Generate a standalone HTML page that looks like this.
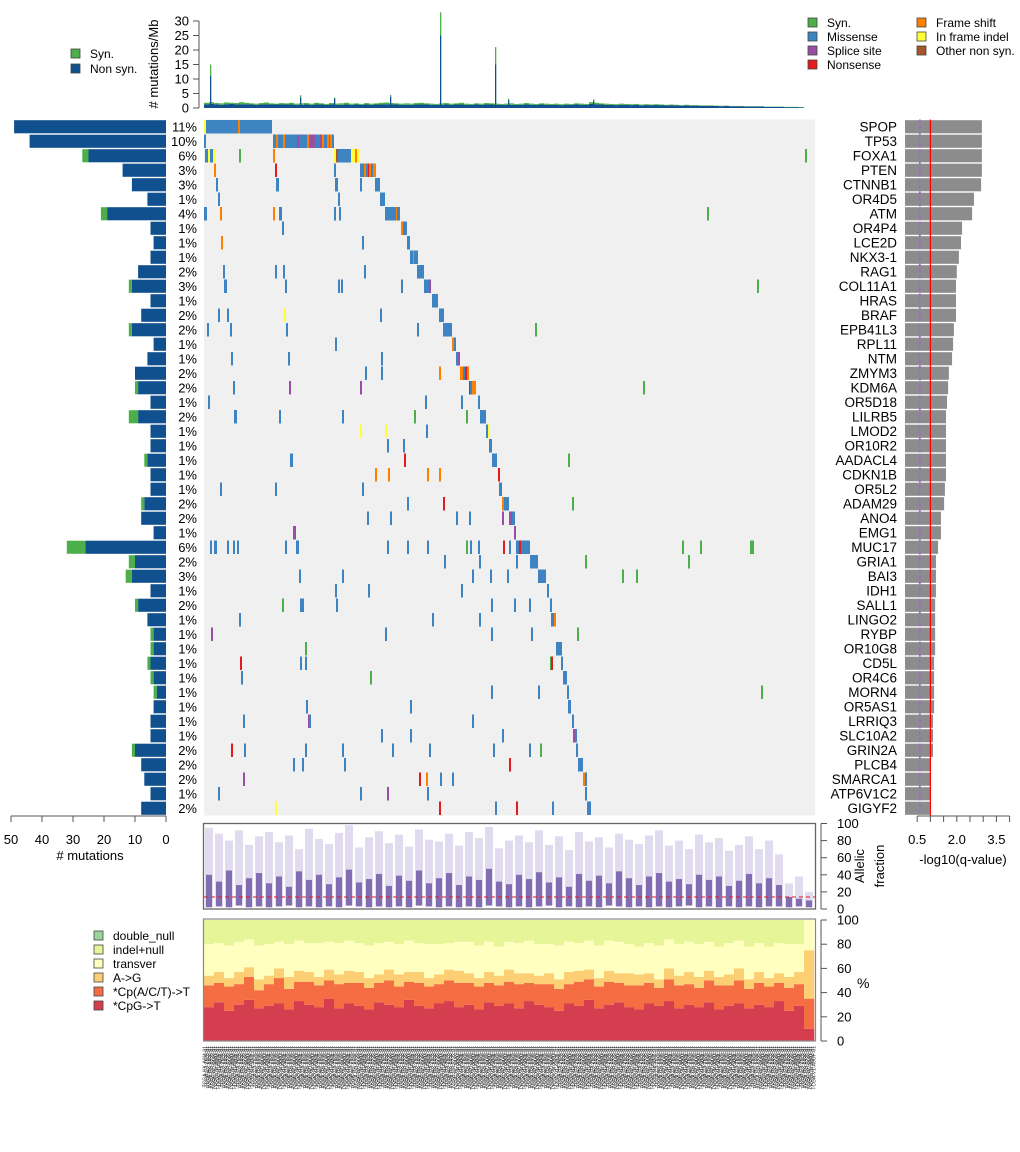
<!DOCTYPE html>
<html><head><meta charset="utf-8"><style>
html,body{margin:0;padding:0;background:#fff;}
svg{display:block;font-family:"Liberation Sans",sans-serif;}
</style></head><body>
<svg id="chart" width="1020" height="1152" viewBox="0 0 1020 1152" xmlns="http://www.w3.org/2000/svg"></svg>
<script>
// ---------- data ----------
const genes=["SPOP","TP53","FOXA1","PTEN","CTNNB1","OR4D5","ATM","OR4P4","LCE2D","NKX3-1","RAG1","COL11A1","HRAS","BRAF","EPB41L3","RPL11","NTM","ZMYM3","KDM6A","OR5D18","LILRB5","LMOD2","OR10R2","AADACL4","CDKN1B","OR5L2","ADAM29","ANO4","EMG1","MUC17","GRIA1","BAI3","IDH1","SALL1","LINGO2","RYBP","OR10G8","CD5L","OR4C6","MORN4","OR5AS1","LRRIQ3","SLC10A2","GRIN2A","PLCB4","SMARCA1","ATP6V1C2","GIGYF2"];
const pctLabels=["11%","10%","6%","3%","3%","1%","4%","1%","1%","1%","2%","3%","1%","2%","2%","1%","1%","2%","2%","1%","2%","1%","1%","1%","1%","1%","2%","2%","1%","6%","2%","3%","1%","2%","1%","1%","1%","1%","1%","1%","1%","1%","1%","2%","2%","2%","1%","2%"];
const nonsynCount=[49,44,25,14,11,6,19,5,4,5,9,11,5,8,11,4,6,10,9,5,9,5,5,6,5,5,7,8,4,26,10,11,5,9,6,4,4,5,4,3,4,5,5,10,8,7,5,8];
const synCount=[0,0,2,0,0,0,2,0,0,0,0,1,0,0,1,0,0,0,1,0,3,0,0,1,0,0,1,0,0,6,2,2,0,1,0,1,1,1,1,1,0,0,0,1,0,0,0,0];
const qValue=[2.95,2.95,2.95,2.95,2.92,2.65,2.58,2.2,2.16,2.08,2.0,1.97,1.97,1.97,1.89,1.86,1.82,1.7,1.67,1.63,1.59,1.59,1.59,1.59,1.59,1.55,1.52,1.4,1.4,1.29,1.21,1.21,1.21,1.18,1.18,1.18,1.18,1.14,1.14,1.14,1.14,1.1,1.1,1.1,1.02,1.02,1.02,0.98];
const mutations=[
[[0,2,"I"],[2,32,"M"],[34,2,"F"],[36,32,"M"]],
[[0,1,"M"],[69,3,"M"],[72,2,"F"],[74,5,"M"],[79,2,"F"],[81,12,"M"],[93,2,"S"],[95,8,"M"],[103,2,"F"],[105,1,"M"],[106,5,"S"],[111,5,"M"],[116,2,"S"],[118,2,"F"],[120,3,"M"],[123,2,"F"],[125,1,"M"],[126,2,"F"],[128,2,"M"]],
[[1,3,"M"],[4,2,"I"],[6,3,"M"],[9,1,"I"],[35,1,"Y"],[69,2,"F"],[130,2,"I"],[132,2,"O"],[134,13,"M"],[147,4,"I"],[151,2,"F"],[153,2,"I"],[601,2,"Y"]],
[[10,2,"F"],[71,1,"N"],[130,1,"M"],[156,4,"M"],[160,2,"F"],[162,2,"M"],[164,1,"N"],[165,2,"F"],[167,2,"M"],[169,3,"F"]],
[[12,2,"M"],[72,3,"M"],[131,3,"M"],[156,2,"M"],[171,5,"M"]],
[[14,2,"M"],[134,1,"M"],[176,5,"M"]],
[[0,3,"M"],[16,1,"F"],[69,2,"F"],[75,3,"M"],[130,1,"M"],[135,2,"M"],[181,11,"M"],[192,1,"F"],[193,3,"M"],[503,1,"Y"]],
[[78,1,"M"],[197,2,"F"],[199,4,"M"]],
[[17,2,"F"],[158,1,"M"],[203,3,"M"]],
[[206,3,"M"],[209,1,"F"],[210,4,"M"]],
[[19,1,"M"],[71,1,"M"],[79,2,"M"],[160,1,"M"],[213,7,"M"]],
[[20,3,"M"],[81,1,"M"],[134,1,"M"],[137,1,"M"],[197,1,"M"],[220,5,"M"],[225,2,"S"],[553,1,"Y"]],
[[228,6,"M"]],
[[14,1,"M"],[23,2,"M"],[80,2,"I"],[176,1,"M"],[235,5,"M"]],
[[3,1,"M"],[26,1,"M"],[82,2,"M"],[213,1,"M"],[239,9,"M"],[331,1,"Y"]],
[[131,1,"M"],[248,2,"F"],[250,2,"M"]],
[[27,2,"M"],[84,1,"M"],[177,2,"M"],[252,2,"M"],[254,2,"S"]],
[[161,1,"M"],[177,2,"M"],[235,1,"F"],[256,3,"F"],[259,2,"M"],[261,2,"N"],[263,2,"F"]],
[[29,1,"M"],[85,1,"S"],[156,1,"S"],[265,1,"N"],[266,2,"M"],[268,4,"F"],[439,1,"Y"]],
[[4,2,"M"],[221,2,"M"],[257,1,"M"],[274,2,"M"]],
[[30,3,"M"],[75,1,"M"],[138,2,"M"],[210,1,"Y"],[262,2,"Y"],[276,6,"M"]],
[[156,1,"I"],[181,2,"I"],[222,1,"M"],[282,2,"M"],[284,1,"I"]],
[[183,1,"M"],[199,1,"M"],[285,3,"M"]],
[[86,3,"M"],[200,2,"N"],[288,5,"M"],[364,1,"Y"]],
[[171,2,"F"],[184,2,"F"],[223,2,"F"],[235,1,"F"],[294,1,"N"]],
[[16,1,"M"],[71,1,"M"],[158,2,"M"],[295,3,"M"]],
[[203,1,"M"],[239,1,"N"],[298,2,"F"],[300,5,"M"],[368,1,"Y"]],
[[163,1,"M"],[186,1,"M"],[252,1,"M"],[265,1,"M"],[298,1,"S"],[305,3,"S"],[308,3,"M"]],
[[89,3,"S"],[310,1,"S"]],
[[6,1,"M"],[10,3,"M"],[23,1,"M"],[29,1,"M"],[33,2,"M"],[81,1,"M"],[92,3,"M"],[183,1,"M"],[203,1,"M"],[223,1,"M"],[262,1,"Y"],[266,1,"M"],[274,1,"M"],[299,1,"N"],[305,1,"M"],[312,3,"M"],[315,2,"N"],[317,9,"M"],[478,1,"Y"],[496,1,"Y"],[546,1,"Y"],[548,1,"Y"]],
[[240,1,"M"],[275,1,"M"],[312,1,"M"],[326,8,"M"],[381,1,"Y"],[484,1,"Y"]],
[[95,1,"M"],[138,1,"M"],[268,1,"M"],[286,1,"M"],[303,1,"M"],[334,8,"M"],[418,1,"Y"],[432,1,"Y"]],
[[131,1,"M"],[164,1,"M"],[257,1,"M"],[343,2,"M"]],
[[78,1,"Y"],[96,4,"M"],[132,2,"M"],[287,2,"M"],[310,1,"M"],[325,2,"M"],[346,2,"M"]],
[[35,1,"M"],[228,1,"M"],[275,1,"M"],[347,3,"M"],[350,1,"F"]],
[[7,2,"S"],[181,2,"M"],[287,1,"M"],[327,1,"M"],[373,1,"Y"]],
[[101,1,"Y"],[352,6,"M"]],
[[36,1,"N"],[96,2,"M"],[101,1,"M"],[346,1,"Y"],[347,1,"N"],[357,2,"M"]],
[[37,2,"M"],[166,1,"Y"],[359,4,"M"]],
[[287,1,"M"],[334,2,"M"],[363,1,"M"],[557,1,"Y"]],
[[102,2,"M"],[206,1,"M"],[364,3,"M"]],
[[39,1,"M"],[104,1,"S"],[105,2,"M"],[268,1,"M"],[368,2,"M"]],
[[177,2,"M"],[206,1,"M"],[298,2,"M"],[369,2,"S"],[371,1,"M"]],
[[27,2,"N"],[40,2,"M"],[101,1,"M"],[138,2,"M"],[188,1,"M"],[225,2,"M"],[289,1,"M"],[325,2,"M"],[336,1,"Y"],[372,2,"M"]],
[[89,2,"M"],[98,1,"M"],[140,1,"M"],[305,2,"N"],[374,5,"M"]],
[[39,1,"S"],[215,1,"N"],[222,1,"F"],[236,2,"M"],[248,1,"M"],[379,2,"F"],[381,1,"M"]],
[[14,2,"M"],[156,1,"M"],[183,1,"S"],[223,2,"M"],[381,1,"M"]],
[[71,1,"I"],[235,1,"N"],[291,1,"M"],[312,2,"N"],[348,1,"M"],[383,4,"M"]]
];
const tmbTotal=[1.8,2.0,1.7,1.6,1.9,1.8,1.7,2.0,1.8,1.6,1.5,1.7,1.9,1.6,1.5,1.7,1.6,1.8,1.5,1.6,1.7,1.5,1.8,1.6,1.4,1.7,1.5,1.6,1.8,1.5,1.6,1.4,1.7,1.5,1.6,1.8,1.9,1.7,1.6,1.5,1.6,1.5,1.7,1.8,1.6,1.5,1.4,1.6,1.7,1.5,1.6,1.8,1.5,1.4,1.6,1.5,1.7,1.6,1.5,1.4,1.5,1.6,1.4,1.5,1.7,1.5,1.4,1.6,1.5,1.4,1.5,1.3,1.5,1.4,1.6,1.5,1.4,2.0,1.8,1.6,1.5,1.4,1.3,1.5,1.4,1.3,1.4,1.2,1.3,1.2,1.3,1.2,1.1,1.2,1.1,1.0,1.1,1.0,1.0,0.9,0.9,0.9,0.8,0.8,0.8,0.7,0.7,0.7,0.6,0.6,0.6,0.6,0.5,0.5,0.5,0.5,0.4,0.4,0.4,0.3];
const tmbSyn=[0.5,0.6,0.4,0.5,0.6,0.4,0.5,0.7,0.5,0.4,0.4,0.5,0.6,0.4,0.3,0.5,0.4,0.6,0.4,0.5,0.5,0.4,0.6,0.4,0.3,0.5,0.4,0.5,0.6,0.4,0.4,0.3,0.5,0.4,0.4,0.6,0.6,0.5,0.4,0.4,0.5,0.4,0.5,0.6,0.4,0.4,0.3,0.5,0.5,0.4,0.4,0.6,0.4,0.3,0.4,0.4,0.5,0.4,0.4,0.3,0.4,0.5,0.3,0.4,0.5,0.4,0.3,0.4,0.4,0.3,0.4,0.3,0.4,0.3,0.4,0.4,0.3,0.6,0.5,0.4,0.4,0.3,0.3,0.4,0.3,0.3,0.3,0.3,0.3,0.2,0.3,0.2,0.2,0.3,0.2,0.2,0.2,0.2,0.2,0.2,0.2,0.2,0.1,0.2,0.1,0.1,0.1,0.1,0.1,0.1,0.1,0.1,0.1,0.1,0.1,0.1,0.1,0.1,0.1,0.1];
const spikeSample=[6,96,130,186,236,291,304,389];
const spikeTotal=[15,4.4,3.6,4.5,33,21,3.2,3.0];
const spikeSyn=[4,0.8,0.3,0.6,8,6,0.5,0.5];
const afLow=[2,3,2,4,2,3,2,3,4,2,3,2,3,2,4,3,2,3,2,3,2,4,3,2,3,2,3,2,4,3,2,3,2,3,4,2,3,2,3,2,4,3,2,3,2,3,2,3,4,2,3,2,3,2,3,2,3,3,2,3,2];
const afMed=[40,32,45,28,36,42,30,38,26,44,34,40,29,37,46,31,35,41,27,39,33,45,30,36,42,28,38,34,47,32,29,40,35,43,31,37,26,41,33,39,30,44,36,28,38,42,32,35,29,40,34,38,27,33,41,30,36,28,14,12,10];
const afHigh=[95,88,80,92,75,85,90,78,86,70,94,82,76,89,98,72,84,91,77,87,73,93,81,79,88,74,90,83,96,71,80,86,78,92,75,85,69,90,79,84,72,88,81,76,86,92,74,80,70,87,78,83,68,75,85,70,80,64,30,38,20];
const afThreshold=14;
const spCpG=[28,32,25,30,34,27,29,31,26,33,30,28,35,27,31,29,26,32,30,28,34,29,27,31,33,28,30,26,32,29,31,27,33,30,28,25,31,29,34,27,30,32,28,26,31,29,33,27,30,28,32,26,29,31,27,30,28,33,25,29,10];
const spCpA=[18,16,20,17,19,15,18,21,17,16,19,18,15,20,17,19,18,16,20,17,15,19,18,16,17,20,18,19,16,17,18,20,15,17,19,18,16,20,17,18,19,16,18,20,17,15,18,19,17,16,18,20,17,19,16,18,17,15,19,18,25];
const spAG=[8,9,7,10,8,9,7,8,10,9,8,7,9,8,10,9,8,7,9,10,8,9,7,8,9,10,8,7,9,8,10,9,8,7,9,8,10,9,8,7,9,8,10,9,8,7,9,8,10,9,8,7,9,10,8,9,7,8,9,10,40];
const spTransver=[26,24,27,25,23,28,26,22,27,25,24,28,23,26,25,24,27,26,23,25,26,24,28,25,22,24,26,27,25,24,23,25,27,26,24,28,25,23,24,27,25,26,24,23,25,28,24,26,25,27,24,25,26,23,27,24,26,25,27,23,25];
const tmbTicks=[0,5,10,15,20,25,30];
const countTicks=[50,40,30,20,10,0];
const qTicks=[0.5,1,1.5,2,2.5,3,3.5,4];
const qTickLabels=["0.5","","","2.0","","","3.5",""];
const pctTicks=[0,20,40,60,80,100];
const sampleIds=["TCGA-KK-A8I4","TCGA-EJ-7125","TCGA-HC-8258","TCGA-G9-6356","TCGA-CH-5737","TCGA-XK-AAIW","TCGA-J4-A83J","TCGA-V1-A9OF"];

// ---------- layout ----------
const NS="http://www.w3.org/2000/svg";
const svg=document.getElementById('chart');
function el(tag,attrs,parent){const e=document.createElementNS(NS,tag);for(const k in attrs)e.setAttribute(k,attrs[k]);(parent||svg).appendChild(e);return e;}
const MX0=204,MX1=815,NS_SAMPLES=611;
const sx=s=>MX0+s*(MX1-MX0)/NS_SAMPLES;
const rowTop=119.5,rowH=14.5;
const ry=i=>rowTop+i*rowH;
const colors={M:"#3f84c2",Y:"#4daf4a",S:"#984ea3",N:"#e41a1c",F:"#ff7f00",I:"#ffff33",O:"#a65628"};
const countX=v=>166-v*3.1;
const qX=v=>904+v*26.4;
const tmbY=v=>108-v*2.9;
const afY=v=>909-v*0.855;
const spY=v=>1041-v*1.21;

let g=el('g',{});


let bg=el('rect',{x:MX0,y:rowTop,width:MX1-MX0,height:rowH*genes.length,fill:"#f0f0f0"},g);


mutations.forEach((runs,i)=>{
  runs.forEach(r=>{
    const w=Math.max(2,sx(r[0]+r[1])-sx(r[0]));
    const m=el('rect',{x:sx(r[0]),y:ry(i)+0.5,width:w,height:rowH-1,fill:colors[r[2]]},g);
    
    
  });
});

genes.forEach((gn,i)=>{
  const y=ry(i)+0.7,h=rowH-1.4;
  const b=el('rect',{x:countX(nonsynCount[i]),y:y,width:166-countX(nonsynCount[i]),height:h,fill:"#10508e"});
  
  
  if(synCount[i]>0){
    const s=el('rect',{x:countX(nonsynCount[i]+synCount[i]),y:y,width:synCount[i]*3.1,height:h,fill:"#4daf4a"});
    
    
  }
  const p=el('text',{x:197,y:ry(i)+12,"text-anchor":"end","font-size":13,fill:"#000"});
  p.textContent=pctLabels[i];
  
  
  const t=el('text',{x:897,y:ry(i)+12,"text-anchor":"end","font-size":13.5,fill:"#000"});
  t.textContent=gn;
  
  
  const q=el('rect',{x:905,y:y,width:qX(qValue[i])-905,height:h,fill:"#8c8c8c"});
  
  
});
let qd=el('line',{x1:qX(0.6),x2:qX(0.6),y1:rowTop,y2:ry(genes.length),stroke:"#9966dd","stroke-width":1.8,"stroke-dasharray":"3,3"});


let ql=el('line',{x1:qX(1),x2:qX(1),y1:rowTop,y2:ry(genes.length),stroke:"#ff0000","stroke-width":1.2});



let ax=el('g',{stroke:"#555","stroke-width":1});


el('line',{x1:countX(50),x2:countX(0),y1:816,y2:816},ax);
countTicks.forEach(v=>{
  el('line',{x1:countX(v),x2:countX(v),y1:816,y2:822},ax);
  const t=el('text',{x:countX(v),y:844,"text-anchor":"middle","font-size":13,fill:"#000",stroke:"none"},ax);
  t.textContent=v;
  
  
});
let ct=el('text',{x:90,y:860,"text-anchor":"middle","font-size":13});
ct.textContent="# mutations";



let qa=el('g',{stroke:"#555","stroke-width":1});


el('line',{x1:qX(0.5),x2:qX(4),y1:816,y2:816},qa);
qTicks.forEach((v,k)=>{
  el('line',{x1:qX(v),x2:qX(v),y1:816,y2:822},qa);
  if(qTickLabels[k]){const t=el('text',{x:qX(v),y:844,"text-anchor":"middle","font-size":13,fill:"#000",stroke:"none"},qa);t.textContent=qTickLabels[k];}
});
let qt=el('text',{x:963,y:864,"text-anchor":"middle","font-size":13});
qt.textContent="-log10(q-value)";



let tg=el('g',{});


tmbTotal.forEach((v,k)=>{
  const x=sx(k*5),w=sx(k*5+5)-x;
  const ns=v-tmbSyn[k];
  const a=el('rect',{x:x,y:tmbY(ns),width:w,height:tmbY(0)-tmbY(ns),fill:"#10508e"},tg);
  
  
  const b=el('rect',{x:x,y:tmbY(v),width:w,height:tmbY(ns)-tmbY(v),fill:"#4daf4a"},tg);
  
  
});
spikeSample.forEach((s,k)=>{
  const ns=spikeTotal[k]-spikeSyn[k];
  const a=el('rect',{x:sx(s),y:tmbY(ns),width:1.3,height:tmbY(0)-tmbY(ns),fill:"#10508e"},tg);
  
  
  const b=el('rect',{x:sx(s),y:tmbY(spikeTotal[k]),width:1.3,height:tmbY(ns)-tmbY(spikeTotal[k]),fill:"#4daf4a"},tg);
  
  
});
let ta=el('g',{stroke:"#555","stroke-width":1});


el('line',{x1:199,x2:199,y1:tmbY(0),y2:tmbY(30)},ta);
tmbTicks.forEach(v=>{
  el('line',{x1:193,x2:199,y1:tmbY(v),y2:tmbY(v)},ta);
  const t=el('text',{x:189,y:tmbY(v)+4.5,"text-anchor":"end","font-size":13,fill:"#000",stroke:"none"},ta);
  t.textContent=v;
});
let tt=el('text',{x:158,y:64,"text-anchor":"middle","font-size":13,transform:"rotate(-90 158 64)"});
tt.textContent="# mutations/Mb";



function legendItem(x,y,color,label,name){
  const r=el('rect',{x:x,y:y-8,width:9,height:9,fill:color,stroke:"#444","stroke-width":0.8});
  
  
  const t=el('text',{x:x+19,y:y+1,"font-size":12});
  t.textContent=label;
  
  
}
legendItem(71,57,"#4daf4a","Syn.","legend-syn");
legendItem(71,72,"#10508e","Non syn.","legend-nonsyn");
legendItem(808,26,"#4daf4a","Syn.","legend-type-syn");
legendItem(808,40,"#3f84c2","Missense","legend-missense");
legendItem(808,54,"#984ea3","Splice site","legend-splice");
legendItem(808,68,"#e41a1c","Nonsense","legend-nonsense");
legendItem(917,26,"#ff7f00","Frame shift","legend-frameshift");
legendItem(917,40,"#ffff33","In frame indel","legend-inframe");
legendItem(917,54,"#a65628","Other non syn.","legend-other");

let ag=el('g',{});


afMed.forEach((v,k)=>{
  const x=sx(k*10),w=sx(k*10+10)-x;
  const l=el('rect',{x:x+1,y:afY(afHigh[k]),width:w-2,height:afY(afLow[k])-afY(afHigh[k]),fill:"#d8d2ea",opacity:0.8},ag);
  
  
  const d=el('rect',{x:x+2,y:afY(v),width:w-4,height:afY(afLow[k])-afY(v),fill:"#6a51a3",opacity:0.8},ag);
  
  
});
let afl=el('line',{x1:MX0,x2:MX1,y1:afY(afThreshold),y2:afY(afThreshold),stroke:"#e41a1c","stroke-width":1,"stroke-dasharray":"4,3"});


let afb=el('rect',{x:MX0-0.5,y:823.5,width:MX1-MX0+1,height:85.5,fill:"none",stroke:"#666","stroke-width":1.3});


let afa=el('g',{stroke:"#555"});


el('line',{x1:821,x2:821,y1:afY(0),y2:afY(100)},afa);
pctTicks.forEach(v=>{el('line',{x1:821,x2:827,y1:afY(v),y2:afY(v)},afa);const t=el('text',{x:837,y:afY(v)+4.5,"font-size":13,fill:"#000",stroke:"none"},afa);t.textContent=v;});
let aft=el('text',{x:864,y:866,"text-anchor":"middle","font-size":13,transform:"rotate(-90 864 866)"});aft.textContent="Allelic";

let aft2=el('text',{x:884,y:866,"text-anchor":"middle","font-size":13,transform:"rotate(-90 884 866)"});aft2.textContent="fraction";


const spColors=["#d53e4f","#f46d43","#fdcf74","#ffffbf","#e6f598"];
let sg=el('g',{});


spCpG.forEach((v,k)=>{
  const x=sx(k*10),w=sx(k*10+10)-x+0.3;
  const vals=[v,spCpA[k],spAG[k],spTransver[k]];
  vals.push(Math.max(0,100-vals.reduce((a,b)=>a+b,0)));
  let acc=0;
  vals.forEach((h,j)=>{
    const r=el('rect',{x:x,y:spY(acc+h),width:w,height:spY(acc)-spY(acc+h),fill:spColors[j]},sg);
    
    
    acc+=h;
  });
});
let spb=el('rect',{x:MX0-0.5,y:919,width:MX1-MX0+1,height:122,fill:"none",stroke:"#888","stroke-width":1.2});

let spa=el('g',{stroke:"#555"});


el('line',{x1:821,x2:821,y1:spY(0),y2:spY(100)},spa);
pctTicks.forEach(v=>{el('line',{x1:821,x2:827,y1:spY(v),y2:spY(v)},spa);const t=el('text',{x:837,y:spY(v)+4.5,"font-size":13,fill:"#000",stroke:"none"},spa);t.textContent=v;});
let spt=el('text',{x:857,y:988,"font-size":14});spt.textContent="%";

const spLabels=["double_null","indel+null","transver","A->G","*Cp(A/C/T)->T","*CpG->T"];
const spLegColors=["#99d594","#e6f598","#ffffbf","#fdcf74","#f46d43","#d53e4f"];
spLabels.forEach((l,k)=>legendItem(94,939+k*14,spLegColors[k],l,"legend-spectrum-"+k));

let sl=el('g',{fill:"#333","font-size":5});


for(let k=0;k<304;k++){
  const x=MX0+2.5+k*2.01;
  const t=el('text',{x:x,y:1046,transform:"rotate(-90 "+x+" 1046)","text-anchor":"end"},sl);
  t.textContent=sampleIds[k%sampleIds.length]+"-01";
  
  
}
</script>
</body></html>
